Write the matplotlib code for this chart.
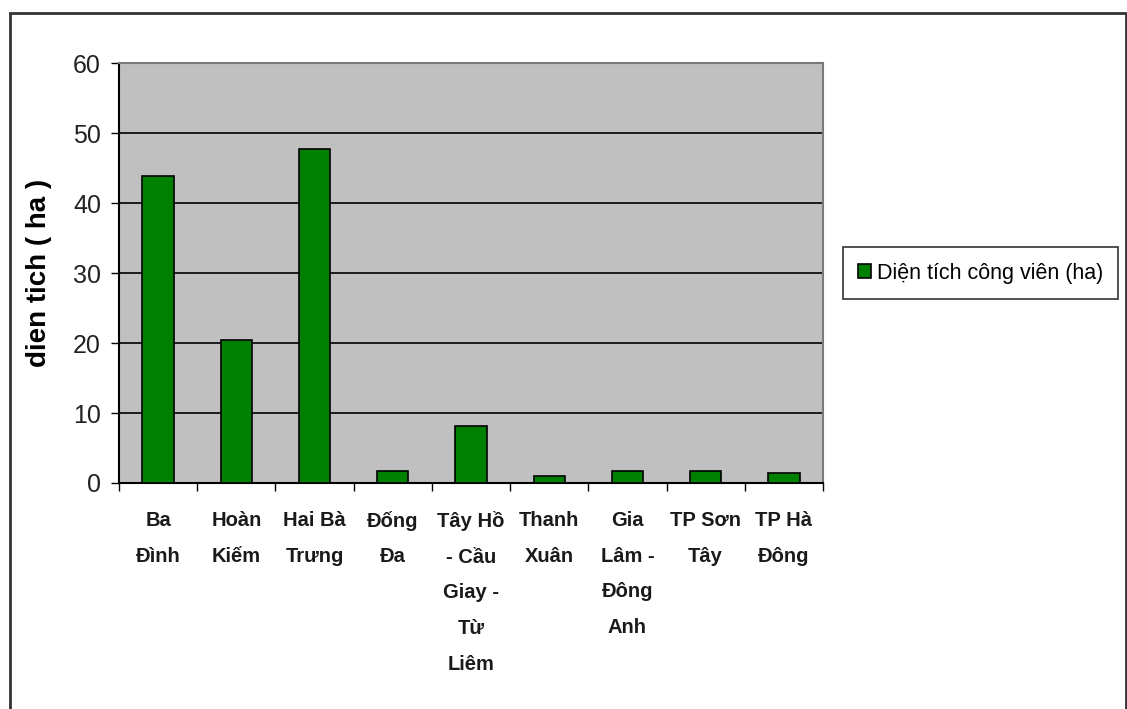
import numpy as np
import matplotlib
matplotlib.use("Agg")
from matplotlib import pyplot as plt
from matplotlib.patches import Rectangle

# Data
districts = ["Ba\nĐình", "Hoàn\nKiếm", "Hai Bà\nTrưng", "Đống\nĐa",
             "Tây Hồ\n- Cầu\nGiay -\nTừ\nLiêm", "Thanh\nXuân",
             "Gia\nLâm -\nĐông\nAnh", "TP Sơn\nTây", "TP Hà\nĐông"]
park_area = [43.8, 20.5, 47.7, 1.7, 8.1, 1.0, 1.7, 1.7, 1.4]
series_name = "Diện tích công viên (ha)"
y_label = "dien tich ( ha )"
y_ticks = [0, 10, 20, 30, 40, 50, 60]

plt.rcParams['font.family'] = ['Liberation Sans', 'DejaVu Sans']

fig = plt.figure(figsize=(11.27, 7.09), dpi=100)
W, H = 1127, 709
ax = fig.add_axes([119 / W, 1 - 483 / H, (823 - 119) / W, (483 - 63) / H])

# outer chart frame
frame = Rectangle((10 / W, -0.05), (1126 - 10) / W, 1.05 - 13 / H,
                  transform=fig.transFigure, fill=False, edgecolor='#333333',
                  linewidth=2, clip_on=False)
fig.patches.append(frame)

x = np.arange(len(districts))
ax.set_facecolor('#C0C0C0')
ax.bar(x, park_area, width=0.4, color='#008000', edgecolor='black',
       linewidth=1.2, label=series_name, zorder=3)

ax.set_xlim(-0.5, len(districts) - 0.5)
ax.set_ylim(0, 60)
ax.set_yticks(y_ticks)
ax.yaxis.grid(True, color='black', linewidth=1.2, zorder=1)
ax.set_axisbelow(True)

# labels at centres, ticks at the category borders
ax.set_xticks(x)
ax.set_xticklabels(districts, fontsize=14.5, fontweight='bold', linespacing=2.12,
                   va='top', color='#1a1a1a')
ax.tick_params(axis='x', which='major', length=0, pad=20)
ax.set_xticks(np.arange(-0.5, len(districts)), minor=True)
ax.tick_params(axis='x', which='minor', length=6, width=1, direction='out')
ax.tick_params(axis='y', length=6, width=1, direction='out', pad=7,
               labelsize=18, labelcolor='#222222')

for side in ['top', 'right']:
    ax.spines[side].set_color('#7a7a7a')
    ax.spines[side].set_linewidth(1.5)
for side in ['left', 'bottom']:
    ax.spines[side].set_color('black')
    ax.spines[side].set_linewidth(1.5)

ax.set_ylabel(y_label, fontsize=20, fontweight='bold', labelpad=15)

leg = ax.legend(loc='center left', bbox_to_anchor=(1.028, 0.5), fontsize=15.5,
                frameon=True, fancybox=False, edgecolor='black',
                handlelength=0.6, handleheight=0.65, handletextpad=0.3,
                borderpad=0.7, borderaxespad=0)
leg.get_frame().set_linewidth(1.2)

fig.savefig("out.png", dpi=100, facecolor='white')
